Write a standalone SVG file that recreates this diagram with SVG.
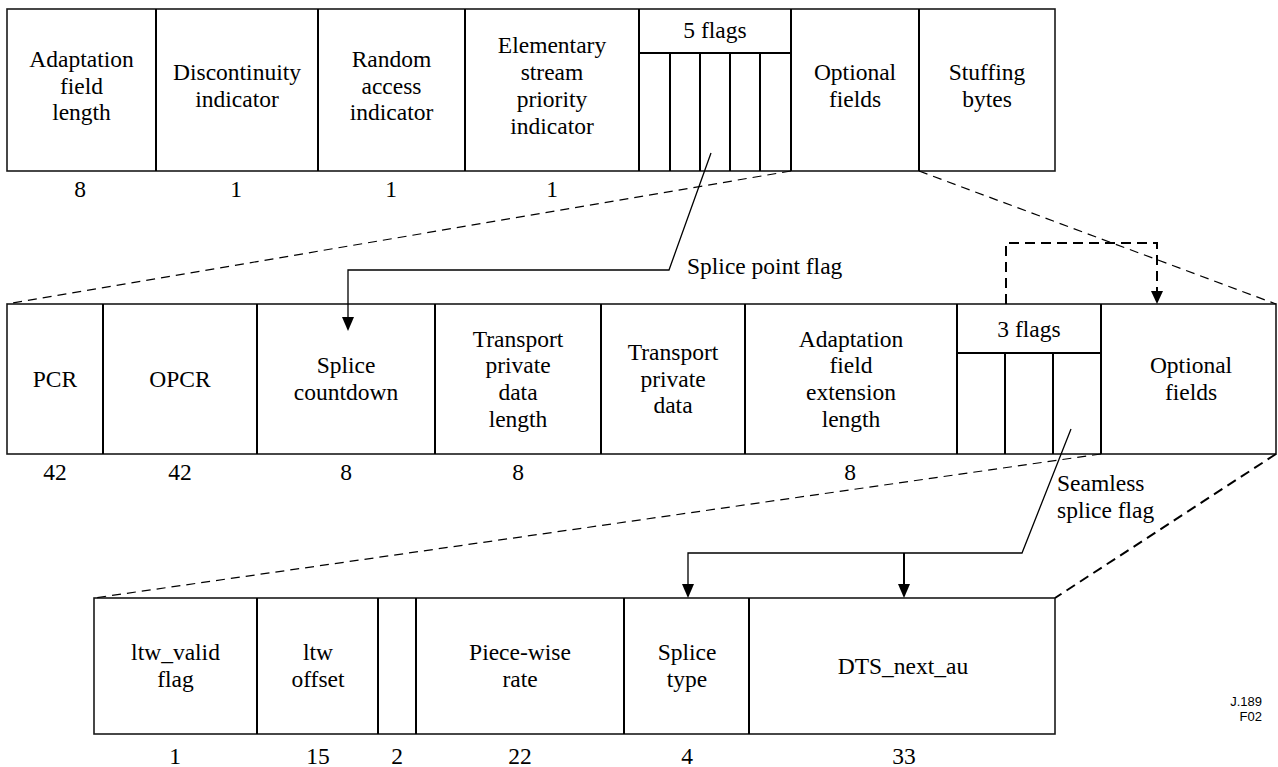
<svg xmlns="http://www.w3.org/2000/svg" width="1278" height="767" viewBox="0 0 1278 767">
<style>
.box{fill:#fff;stroke:#1a1a1a;stroke-width:1.6}
.div{stroke:#000;stroke-width:2;fill:none}
.t{font-size:23.5px;fill:#000;text-anchor:middle}
.lbl{font-size:23.5px;fill:#000}
.dash{stroke:#000;stroke-width:1.2;stroke-dasharray:9 6;fill:none}
.dashb{stroke:#000;stroke-width:2;stroke-dasharray:10 6;fill:none}
.con{stroke:#000;stroke-width:1.3;fill:none}
.conb{stroke:#000;stroke-width:2;fill:none}
.tag{font-size:13px;fill:#000;text-anchor:end}
</style>
<rect width="1278" height="767" fill="#fff"/>

<g font-family="Liberation Serif, Times New Roman, Times, Tinos, DejaVu Serif, Noto Serif, FreeSerif, serif">
<!-- Top row -->
<g id="top-row">
<rect class="box" x="7" y="9" width="1048" height="162"/>
<g id="n-afl"><text class="t" x="81.5" y="67">Adaptation</text><text class="t" x="81.5" y="93.5">field</text><text class="t" x="81.5" y="120">length</text><text class="t" x="80" y="197">8</text></g>
<g id="n-disc"><line class="div" x1="156" y1="9" x2="156" y2="171"/><text class="t" x="237" y="80">Discontinuity</text><text class="t" x="237" y="107">indicator</text><text class="t" x="236" y="197">1</text></g>
<g id="n-rai"><line class="div" x1="318" y1="9" x2="318" y2="171"/><text class="t" x="391.5" y="67">Random</text><text class="t" x="391.5" y="93.5">access</text><text class="t" x="391.5" y="120">indicator</text><text class="t" x="391" y="197">1</text></g>
<g id="n-espi"><line class="div" x1="465" y1="9" x2="465" y2="171"/><text class="t" x="552" y="53">Elementary</text><text class="t" x="552" y="80">stream</text><text class="t" x="552" y="107">priority</text><text class="t" x="552" y="134">indicator</text><text class="t" x="552" y="197">1</text></g>
<g id="n-5flags"><line class="div" x1="639" y1="9" x2="639" y2="171"/><line class="div" x1="639" y1="53" x2="791" y2="53"/>
<line class="div" x1="670" y1="53" x2="670" y2="171"/><line class="div" x1="700" y1="53" x2="700" y2="171"/><line class="div" x1="730" y1="53" x2="730" y2="171"/><line class="div" x1="760" y1="53" x2="760" y2="171"/>
<text class="t" x="715" y="38">5 flags</text></g>
<g id="n-opt1"><line class="div" x1="791" y1="9" x2="791" y2="171"/><text class="t" x="855" y="80">Optional</text><text class="t" x="855" y="107">fields</text></g>
<g id="n-stuff"><line class="div" x1="919" y1="9" x2="919" y2="171"/><text class="t" x="987" y="80">Stuffing</text><text class="t" x="987" y="107">bytes</text></g>
</g>

<!-- Middle row -->
<g id="mid-row">
<rect class="box" x="7" y="304" width="1269" height="150"/>
<g id="n-pcr"><text class="t" x="55" y="387">PCR</text><text class="t" x="55" y="480">42</text></g>
<g id="n-opcr"><line class="div" x1="103" y1="304" x2="103" y2="454"/><text class="t" x="180" y="387">OPCR</text><text class="t" x="180" y="480">42</text></g>
<g id="n-sc"><line class="div" x1="257" y1="304" x2="257" y2="454"/><text class="t" x="346" y="373">Splice</text><text class="t" x="346" y="400">countdown</text><text class="t" x="346" y="480">8</text></g>
<g id="n-tpdl"><line class="div" x1="435" y1="304" x2="435" y2="454"/><text class="t" x="518" y="347">Transport</text><text class="t" x="518" y="373">private</text><text class="t" x="518" y="400">data</text><text class="t" x="518" y="427">length</text><text class="t" x="518" y="480">8</text></g>
<g id="n-tpd"><line class="div" x1="601" y1="304" x2="601" y2="454"/><text class="t" x="673" y="360">Transport</text><text class="t" x="673" y="387">private</text><text class="t" x="673" y="413">data</text></g>
<g id="n-afel"><line class="div" x1="745" y1="304" x2="745" y2="454"/><text class="t" x="851" y="347">Adaptation</text><text class="t" x="851" y="373">field</text><text class="t" x="851" y="400">extension</text><text class="t" x="851" y="427">length</text><text class="t" x="850" y="480">8</text></g>
<g id="n-3flags"><line class="div" x1="957" y1="304" x2="957" y2="454"/><line class="div" x1="957" y1="353" x2="1101" y2="353"/>
<line class="div" x1="1005" y1="353" x2="1005" y2="454"/><line class="div" x1="1053" y1="353" x2="1053" y2="454"/>
<text class="t" x="1029" y="337">3 flags</text></g>
<g id="n-opt2"><line class="div" x1="1101" y1="304" x2="1101" y2="454"/><text class="t" x="1191" y="373">Optional</text><text class="t" x="1191" y="400">fields</text></g>
</g>

<!-- Bottom row -->
<g id="bot-row">
<rect class="box" x="94" y="598" width="961" height="136"/>
<g id="n-ltwv"><text class="t" x="175.5" y="660">ltw_valid</text><text class="t" x="175.5" y="687">flag</text><text class="t" x="175" y="764">1</text></g>
<g id="n-ltwo"><line class="div" x1="257" y1="598" x2="257" y2="734"/><text class="t" x="318" y="660">ltw</text><text class="t" x="318" y="687">offset</text><text class="t" x="318" y="764">15</text></g>
<g id="n-res"><line class="div" x1="378" y1="598" x2="378" y2="734"/><text class="t" x="397" y="764">2</text></g>
<g id="n-pwr"><line class="div" x1="416" y1="598" x2="416" y2="734"/><text class="t" x="520" y="660">Piece-wise</text><text class="t" x="520" y="687">rate</text><text class="t" x="520" y="764">22</text></g>
<g id="n-st"><line class="div" x1="624" y1="598" x2="624" y2="734"/><text class="t" x="687" y="660">Splice</text><text class="t" x="687" y="687">type</text><text class="t" x="687" y="764">4</text></g>
<g id="n-dts"><line class="div" x1="749" y1="598" x2="749" y2="734"/><text class="t" x="903" y="674">DTS_next_au</text><text class="t" x="904" y="764">33</text></g>
</g>

<!-- Connectors -->
<g id="connectors">
<line class="dash" x1="791" y1="171" x2="7" y2="304"/>
<line class="dash" x1="919" y1="171" x2="1276" y2="304"/>
<line class="dash" x1="1101" y1="454" x2="94" y2="598"/>
<line class="dashb" x1="1276" y1="454" x2="1055" y2="598"/>
<polyline class="dashb" points="1006,304 1006,243 1157,243 1157,292"/>
<path d="M1151,291 L1163,291 L1157,304 Z" fill="#000"/>
<polyline class="con" points="711,153 669,270 348,270 348,318"/>
<path d="M342,317 L354,317 L348,331 Z" fill="#000"/>
<polyline class="con" points="1071,429 1022,553 688,553 688,585"/>
<path d="M682,584 L694,584 L688,598 Z" fill="#000"/>
<line class="conb" x1="904" y1="553" x2="904" y2="585"/>
<path d="M898,584 L910,584 L904,598 Z" fill="#000"/>
</g>

<g id="labels">
<text class="lbl" x="687" y="274">Splice point flag</text>
<text class="lbl" x="1057" y="491">Seamless</text>
<text class="lbl" x="1057" y="518">splice flag</text>
</g>
</g>
<g id="figure-tag" font-family="Liberation Sans, Arial, sans-serif">
<text class="tag" x="1262" y="706">J.189</text>
<text class="tag" x="1262" y="721">F02</text>
</g>
</svg>
